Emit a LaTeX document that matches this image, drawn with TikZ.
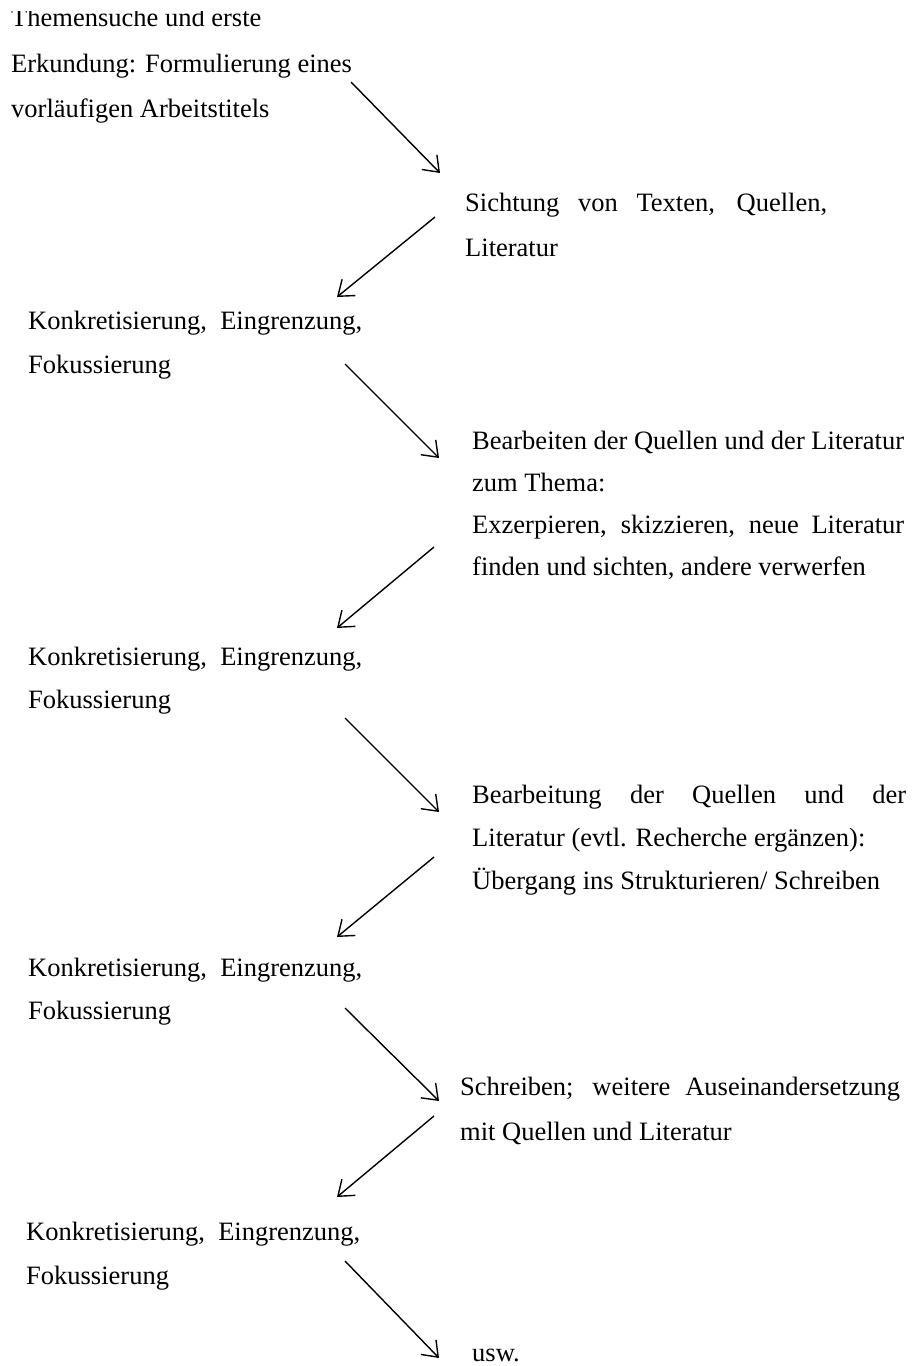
\documentclass[tikz,border=0pt]{standalone}
\usepackage{fontspec}
\setmainfont{Liberation Serif}
\usetikzlibrary{arrows.meta}
\tikzset{
  ln/.style={anchor=base west, inner sep=0pt, font=\fontsize{26.5}{30}\selectfont},
  arr/.style={line width=1.4pt, -{Straight Barb[length=14pt,width=21pt]}},
}
\begin{document}
\begin{tikzpicture}[x=1pt,y=-1pt]
\useasboundingbox (0,0) rectangle (917,1366);
% block 0
\begin{scope}
\clip (0,11) rectangle (917,40);
\node[ln] (b0a) at (11,26) {Themensuche und erste};
\end{scope}
\node[ln] (b0b) at (11,72) {Erkundung: Formulierung eines};
\node[ln] (b0c) at (11,117) {vorläufigen Arbeitstitels};
% right 1
\node[ln] (r1a) at (465,211) {\makebox[362pt][s]{Sichtung von Texten, Quellen,}};
\node[ln] (r1b) at (465,256) {Literatur};
% left 1
\node[ln] (l1a) at (28,329) {Konkretisierung,\ \ Eingrenzung,};
\node[ln] (l1b) at (28,373) {Fokussierung};
% right 2
\node[ln] (r2a) at (472,449) {Bearbeiten der Quellen und der Literatur};
\node[ln] (r2b) at (472,491) {zum Thema:};
\node[ln] (r2c) at (472,533) {\makebox[432pt][s]{Exzerpieren, skizzieren, neue Literatur}};
\node[ln] (r2d) at (472,575) {finden und sichten, andere verwerfen};
% left 2
\node[ln] (l2a) at (28,665) {Konkretisierung,\ \ Eingrenzung,};
\node[ln] (l2b) at (28,708) {Fokussierung};
% right 3
\node[ln] (r3a) at (472,803) {\makebox[434pt][s]{Bearbeitung der Quellen und der}};
\node[ln] (r3b) at (472,846) {Literatur (evtl. Recherche ergänzen):};
\node[ln] (r3c) at (472,889) {Übergang ins Strukturieren/ Schreiben};
% left 3
\node[ln] (l3a) at (28,976) {Konkretisierung,\ \ Eingrenzung,};
\node[ln] (l3b) at (28,1019) {Fokussierung};
% right 4
\node[ln] (r4a) at (460,1095) {\makebox[440pt][s]{Schreiben; weitere Auseinandersetzung}};
\node[ln] (r4b) at (460,1140) {mit Quellen und Literatur};
% left 4
\node[ln] (l4a) at (26,1240) {Konkretisierung,\ \ Eingrenzung,};
\node[ln] (l4b) at (26,1284) {Fokussierung};
% end
\node[ln] (usw) at (472,1361) {usw.};
% arrow coordinates
\coordinate (a1s) at (351,82);   \coordinate (a1e) at (440,173);
\coordinate (a2s) at (435,217);  \coordinate (a2e) at (337,297);
\coordinate (a3s) at (345,364);  \coordinate (a3e) at (439,458);
\coordinate (a4s) at (434,547);  \coordinate (a4e) at (337,628);
\coordinate (a5s) at (345,718);  \coordinate (a5e) at (439,812);
\coordinate (a6s) at (434,857);  \coordinate (a6e) at (337,937);
\coordinate (a7s) at (345,1008); \coordinate (a7e) at (439,1101);
\coordinate (a8s) at (434,1116); \coordinate (a8e) at (337,1197);
\coordinate (a9s) at (345,1261); \coordinate (a9e) at (439,1358);
\foreach \i in {1,...,9} \draw[arr] (a\i s) -- (a\i e);
\end{tikzpicture}
\end{document}
